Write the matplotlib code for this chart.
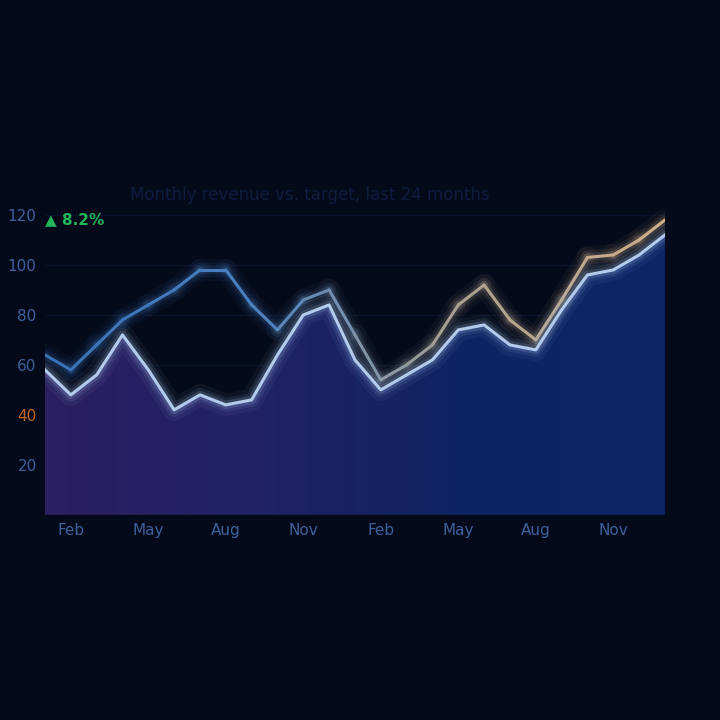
import numpy as np
import matplotlib
matplotlib.use("Agg")
import matplotlib.pyplot as plt
from matplotlib.collections import LineCollection
from matplotlib.colors import LinearSegmentedColormap
from matplotlib.patches import PathPatch

periods = list(range(25))
tick_idx = [1, 4, 7, 10, 13, 16, 19, 22]
tick_labels = ["Feb", "May", "Aug", "Nov", "Feb", "May", "Aug", "Nov"]
revenue = [58, 48, 56, 72, 58, 42, 48, 44, 46, 64, 80, 84, 62, 50, 56, 62, 74, 76, 68, 66, 82, 96, 98, 104, 112]
target = [64, 58, 68, 78, 84, 90, 98, 98, 84, 74, 86, 90, 72, 54, 60, 68, 84, 92, 78, 70, 86, 103, 104, 110, 118]
y_ticks = [20, 40, 60, 80, 100, 120]
highlight_tick = 40

BG = "#040a1a"
fig = plt.figure(figsize=(7.2, 7.2), dpi=100, facecolor=BG)
ax = fig.add_axes([0.0625, 0.285, 0.861, 0.465])
ax.set_facecolor(BG)

x = np.array(periods, float)
y = np.array(revenue, float)
t = np.array(target, float)
ax.set_xlim(0, 24)
ax.set_ylim(0, 134)

# faint grid
for v in y_ticks:
    ax.axhline(v, color="#08122a", lw=0.8, zorder=0)

# gradient-filled area
grad = np.linspace(0, 1, 256).reshape(1, -1)
cmap = LinearSegmentedColormap.from_list("g", ["#2b1f60", "#212265", "#0f2462", "#0b2666"])
im = ax.imshow(grad, extent=[0, 24, 0, 134], aspect="auto", cmap=cmap,
               origin="lower", zorder=1)
poly = ax.fill_between(x, 0, y, facecolor="none", edgecolor="none")
patch = PathPatch(poly.get_paths()[0], transform=ax.transData,
                  facecolor="none", edgecolor="none")
ax.add_patch(patch)
im.set_clip_path(patch)

# target line (blue -> warm gradient) with glow
pts = np.column_stack([x, t]).reshape(-1, 1, 2)
segs = np.concatenate([pts[:-1], pts[1:]], axis=1)
lcmap = LinearSegmentedColormap.from_list("l", ["#3a72b8", "#4a80c0", "#a9a08f", "#cfae8a"])
cols = lcmap(np.linspace(0, 1, len(segs)))
for lw, a in [(16, 0.05), (10, 0.08), (6, 0.14)]:
    c = cols.copy(); c[:, 3] = a
    ax.add_collection(LineCollection(segs, colors=c, linewidths=lw,
                                     capstyle="round", joinstyle="round", zorder=3))
ax.add_collection(LineCollection(segs, colors=cols, linewidths=2.2,
                                 capstyle="round", joinstyle="round", zorder=4))

# revenue top line with glow
for lw, a in [(16, 0.06), (10, 0.10), (6, 0.18)]:
    ax.plot(x, y, color="#9fbde6", lw=lw, alpha=a, solid_capstyle="round",
            solid_joinstyle="round", zorder=5)
ax.plot(x, y, color="#b3cbec", lw=2.2, solid_joinstyle="round", zorder=6)

ax.set_xticks(tick_idx)
ax.set_xticklabels(tick_labels)
ax.set_yticks(y_ticks)
ax.tick_params(length=0, colors="#3d609a", labelsize=11, pad=6)
for lab, v in zip(ax.get_yticklabels(), y_ticks):
    if v == highlight_tick:
        lab.set_color("#c0631c")
for s in ax.spines.values():
    s.set_visible(False)

fig.text(130 / 720, 1 - 195 / 720, "Monthly revenue vs. target, last 24 months",
         color="#0f1c3e", fontsize=12, ha="left", va="center")
fig.text(75 / 720, 1 - 220 / 720, "▲ 8.2%", color="#22b55a",
         fontsize=11, fontweight="bold", ha="center", va="center")

fig.savefig("out.png", dpi=100, facecolor=BG)
